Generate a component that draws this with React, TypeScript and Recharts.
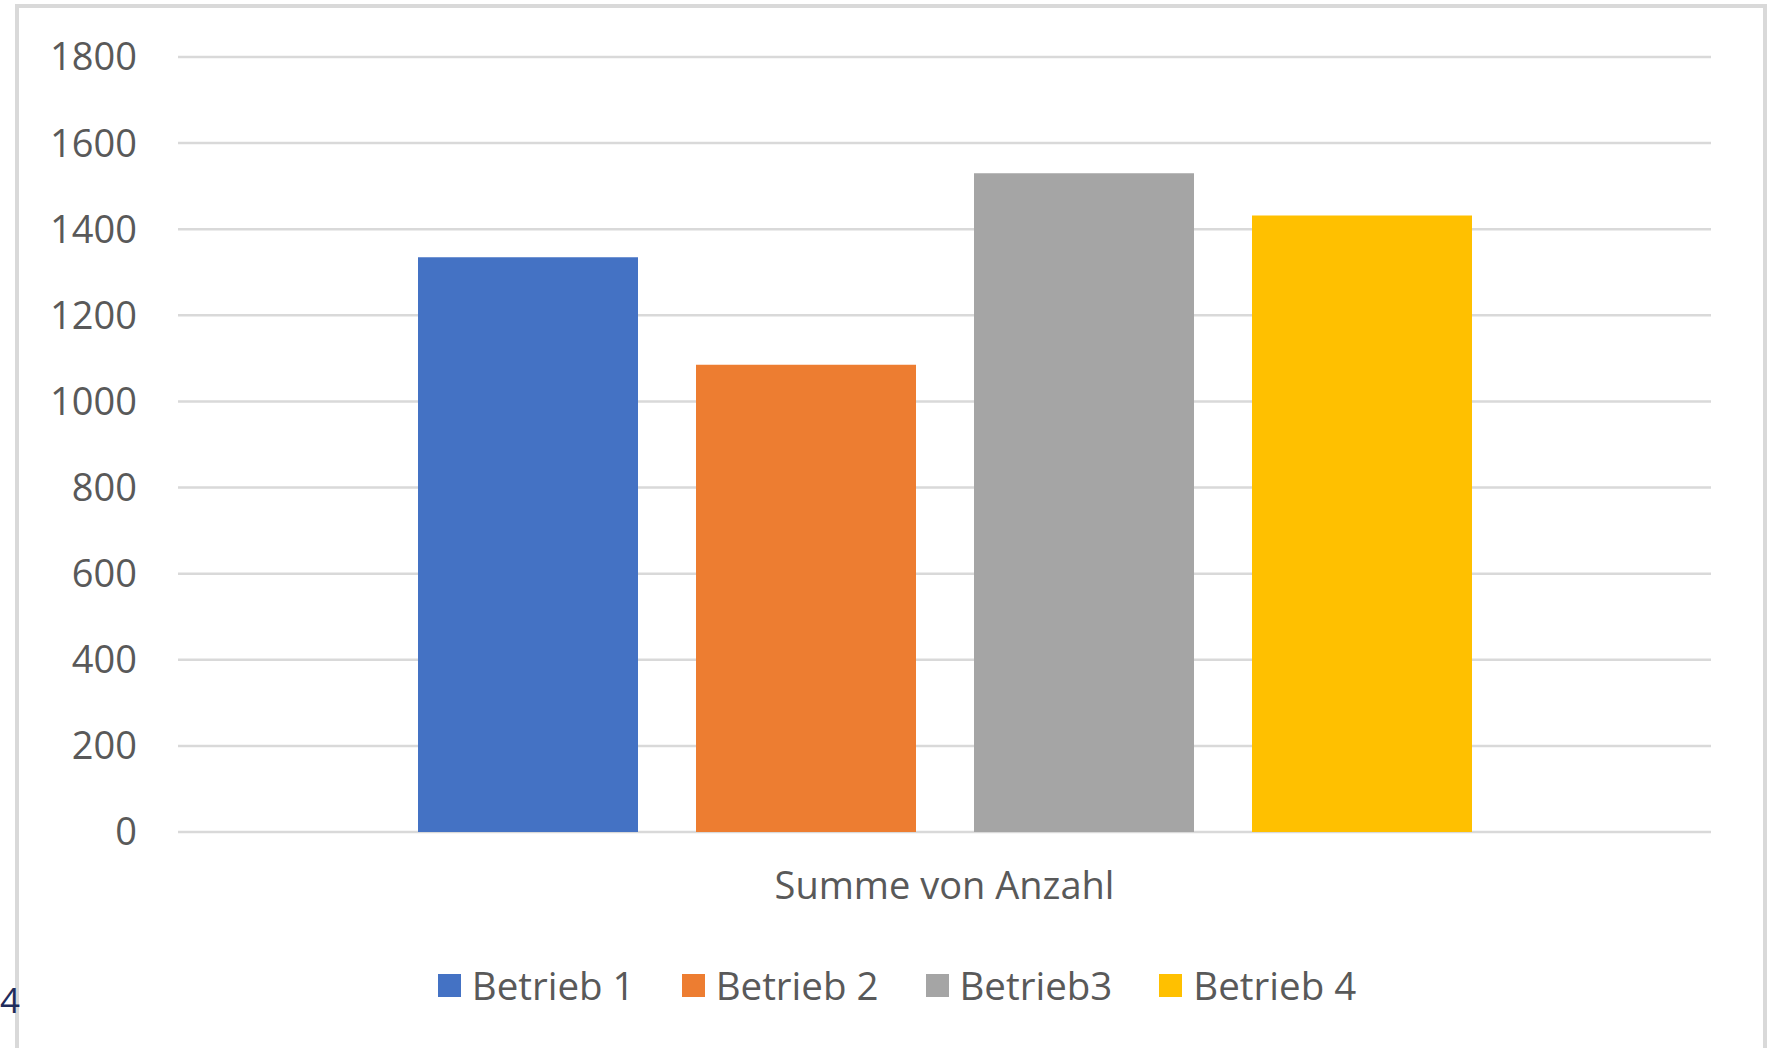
import React from "react";
import { BarChart, Bar, XAxis, YAxis, CartesianGrid, Legend } from "recharts";

const categories = ["Summe von Anzahl"];
const seriesNames = ["Betrieb 1", "Betrieb 2", "Betrieb3", "Betrieb 4"];
const seriesValues = [1335, 1085, 1530, 1432];
const seriesColors = ["#4472C4", "#ED7D31", "#A5A5A5", "#FFC000"];
const yTicks = [0, 200, 400, 600, 800, 1000, 1200, 1400, 1600, 1800];

const data = categories.map((name) => {
  const row: Record<string, string | number> = { name };
  seriesNames.forEach((s, i) => {
    row[s] = seriesValues[i];
  });
  return row;
});

const FONT = "'Open Sans', sans-serif";
const TEXT = "#595959";

function LegendContent(props: any) {
  const payload = props.payload || [];
  // keep series order, not the alphabetical one
  const items = seriesNames
    .map((n) => payload.find((p: any) => p.value === n))
    .filter(Boolean);
  return (
    <div
      style={{
        display: "flex",
        justifyContent: "center",
        alignItems: "center",
        height: 44,
        paddingLeft: 12,
        fontFamily: FONT,
        fontSize: 38.5,
        color: TEXT,
      }}
    >
      {items.map((it: any, i: number) => (
        <div
          key={it.value}
          style={{
            display: "flex",
            alignItems: "center",
            marginRight: i < items.length - 1 ? 47 : 0,
          }}
        >
          <span
            style={{
              width: 23,
              height: 23,
              background: it.color,
              marginRight: 11,
              display: "inline-block",
            }}
          />
          <span style={{ lineHeight: "44px" }}>{it.value}</span>
        </div>
      ))}
    </div>
  );
}

export default function App() {
  return (
    <div
      style={{
        position: "fixed",
        left: 0,
        top: 0,
        width: 1767,
        height: 1048,
        overflow: "hidden",
        background: "#fff",
      }}
    >
      <div
        style={{
          position: "absolute",
          left: 15,
          top: 4,
          width: 1752,
          height: 1060,
          border: "4px solid #d9d9d9",
          boxSizing: "border-box",
        }}
      >
        <BarChart
          width={1744}
          height={1052}
          data={data}
          margin={{ top: 49, right: 52, bottom: 128, left: 0 }}
          barCategoryGap={240}
          barGap={58}
        >
          <CartesianGrid
            vertical={false}
            stroke="#d9d9d9"
            strokeWidth={2.5}
          />
          <XAxis
            dataKey="name"
            axisLine={false}
            tickLine={false}
            tickSize={0}
            tickMargin={40}
            height={100}
            tick={{ fontFamily: FONT, fontSize: 38, fill: TEXT }}
          />
          <YAxis
            domain={[0, 1800]}
            ticks={yTicks}
            axisLine={false}
            tickLine={false}
            tickSize={0}
            tickMargin={41}
            width={159}
            tick={{ fontFamily: FONT, fontSize: 38, fill: TEXT }}
          />
          <Legend
            layout="horizontal"
            verticalAlign="middle"
            align="center"
            wrapperStyle={{ top: 955, left: 0, width: "100%" }}
            content={<LegendContent />}
          />
          {seriesNames.map((s, i) => (
            <Bar
              key={s}
              dataKey={s}
              fill={seriesColors[i]}
              isAnimationActive={false}
            />
          ))}
        </BarChart>
      </div>
      <div
        style={{
          position: "absolute",
          left: 0,
          top: 978,
          fontFamily: FONT,
          fontSize: 35,
          lineHeight: "44px",
          color: "#1f2d5c",
        }}
      >
        4
      </div>
    </div>
  );
}
